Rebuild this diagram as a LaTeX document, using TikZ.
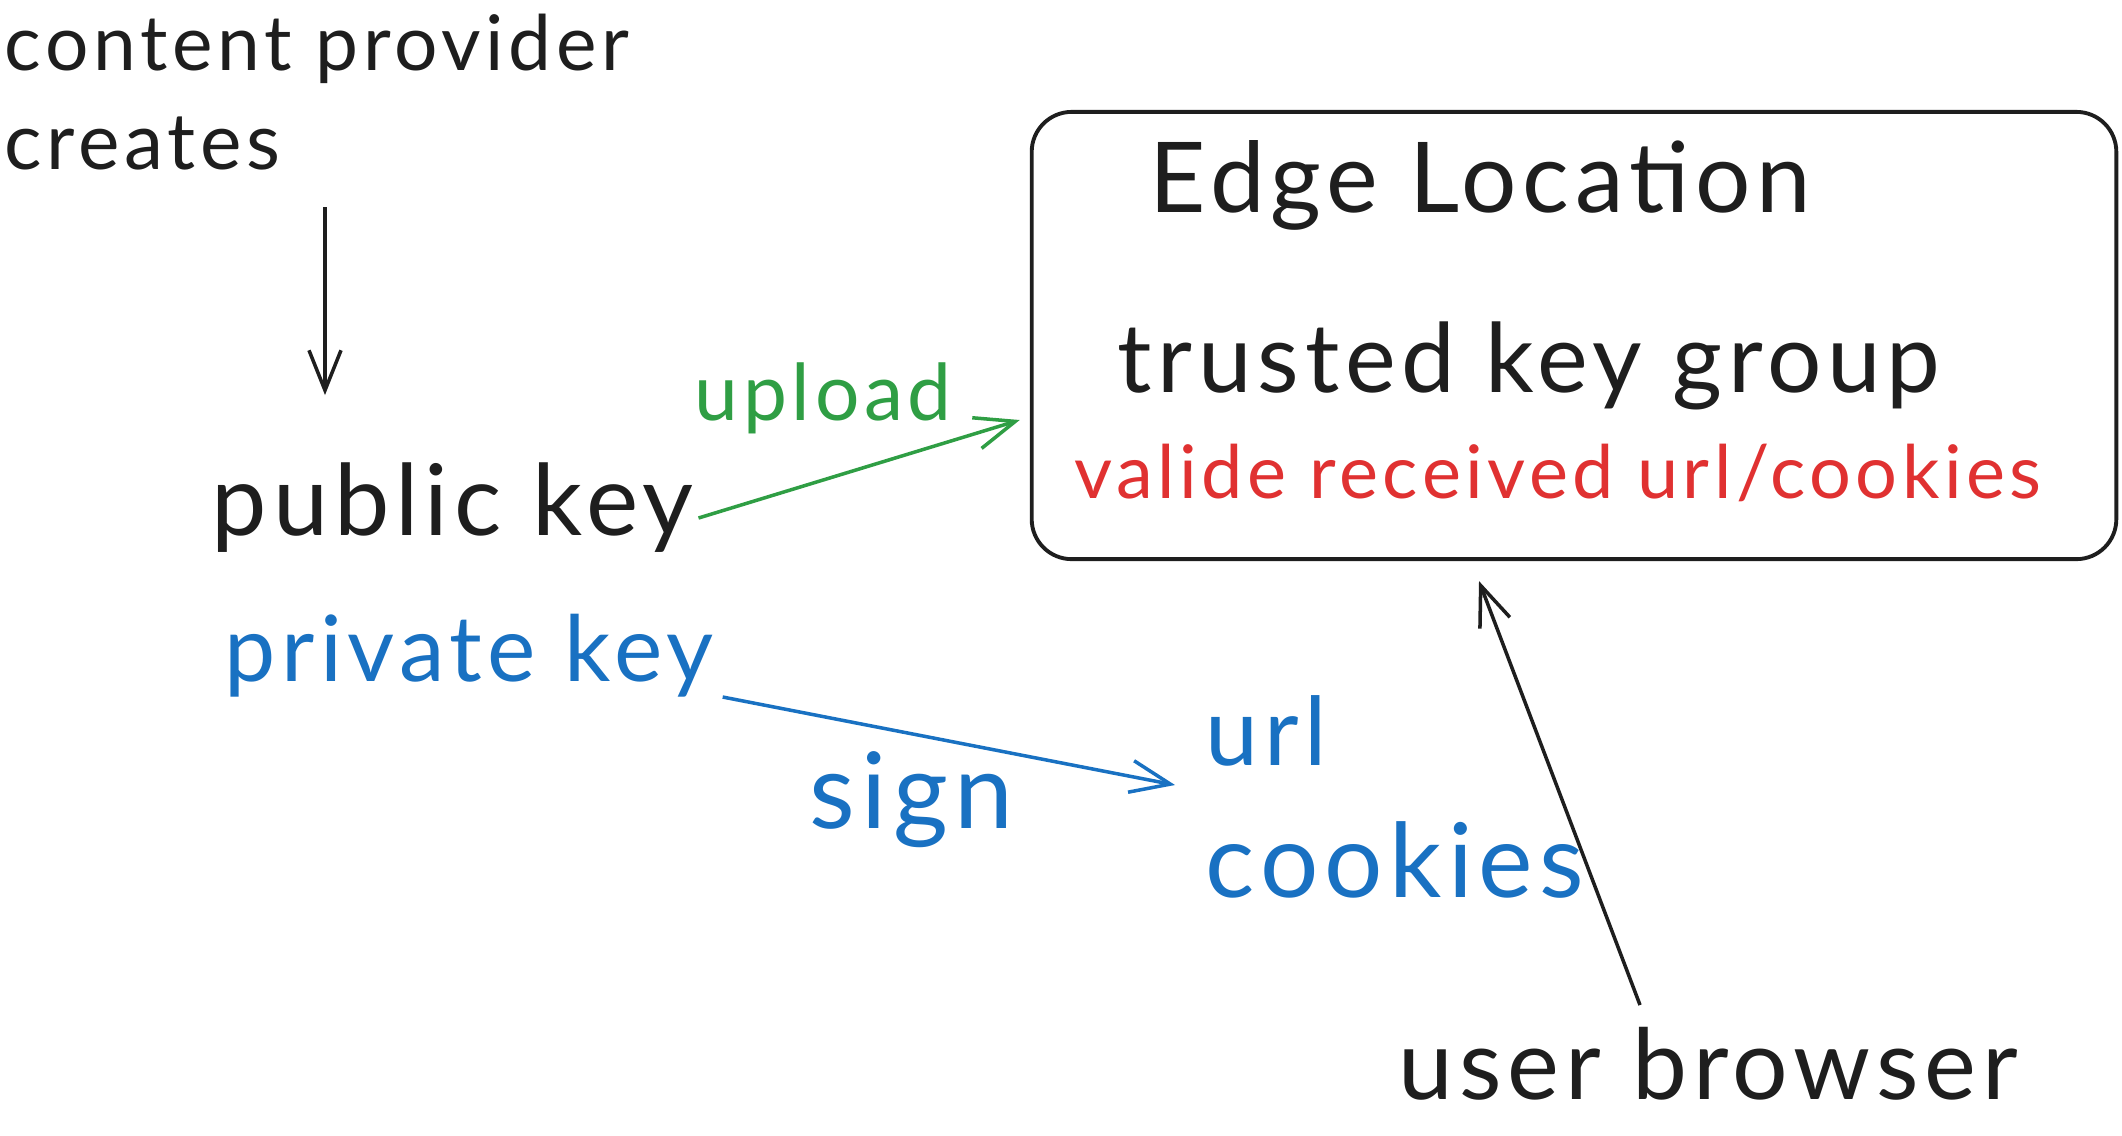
\documentclass[tikz,border=0pt]{standalone}
\usepackage{fontspec}
\setmainfont{Lato}[LetterSpace=6]
\usetikzlibrary{arrows.meta}
\definecolor{ink}{HTML}{1E1E1E}
\definecolor{upgreen}{HTML}{2F9E44}
\definecolor{signblue}{HTML}{1971C2}
\definecolor{checkred}{HTML}{E03131}
\begin{document}
\begin{tikzpicture}[x=0.01cm,y=-0.01cm,>={Straight Barb[length=4mm,width=3.2mm]},line width=1pt,
  every node/.style={inner sep=0pt,anchor=base west,text=ink},
  lbl/.style={font=\fontsize{#1}{#1}\selectfont}]
\useasboundingbox (0,0) rectangle (2122,1135);
\node[lbl=21.8] (prov) at (3,70) {content provider};
\node[lbl=22.3] (creates) at (3,169) {creates};
\node[lbl=28.1] (pub) at (210,535) {public key};
\node[lbl=26,text=signblue] (priv) at (223,681) {private key};
\node[lbl=22.3,text=upgreen] (up) at (693,420) {upload};
\node[lbl=30,text=signblue] (sign) at (808,828) {sign};
\node[lbl=27,text=signblue] (url) at (1204,765) {url};
\node[lbl=29.3,text=signblue] (cook) at (1204,897) {cookies};
\node[draw=ink,line width=1.1pt,rounded corners=0.4cm,anchor=center,
  minimum width=10.84cm,minimum height=4.47cm] (edge) at (1574,335.5) {};
\node[lbl=27.8] (loc) at (1148,212) {Edge Location};
\node[lbl=27.3] (tkg) at (1116,392) {trusted key group};
\node[lbl=21,text=checkred] (valid) at (1073,498) {valide received url/cookies};
\node[lbl=27.9] (user) at (1397,1099) {user browser};
% arrows
\draw[->,ink] ([shift={(322,38)}]creates.base west) -- ([shift={(115,-140)}]pub.base west);
\draw[->,upgreen] ([shift={(3,-17)}]pub.base east) -- ([shift={(-10,84.5)}]edge.west);
\draw[->,signblue] ([shift={(7,16)}]priv.base east) -- ([shift={(-29,20)}]url.base west);
\draw[->,ink] ([shift={(243,-94)}]user.base west) -- ([shift={(-95,20)}]edge.south);
\end{tikzpicture}
\end{document}
